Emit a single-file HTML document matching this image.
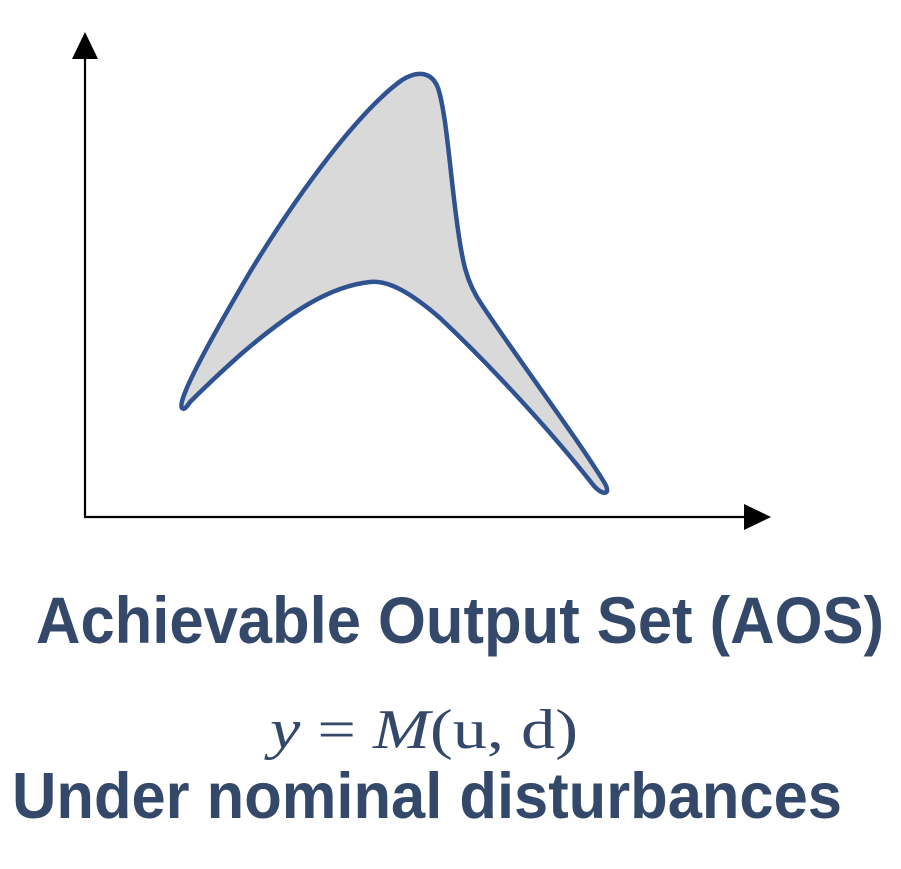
<!DOCTYPE html>
<html>
<head>
<meta charset="utf-8">
<style>
  html, body { margin: 0; padding: 0; background: #ffffff; }
  body { width: 901px; height: 869px; overflow: hidden; }
  svg { display: block; }
</style>
</head>
<body>
<svg width="901" height="869" viewBox="0 0 901 869" xmlns="http://www.w3.org/2000/svg">
  <g>
    <line x1="85" y1="518" x2="85" y2="56" stroke="#000" stroke-width="2.2"/>
    <polygon points="85,32 72,59 98,59" fill="#000"/>
  </g>
  <g>
    <line x1="84" y1="517" x2="748" y2="517" stroke="#000" stroke-width="2.2"/>
    <polygon points="771,517 744,504 744,530" fill="#000"/>
  </g>
  <path
    d="M182,408
       C176,402 210,340 250,272
       C300,190 360,110 402,80
       C418,70 432,72 438,88
       C446,112 450,170 456,215
       C462,262 466,282 482,305
       C520,362 575,435 604,482
       C612,495 603,496 594,486
       C550,430 490,365 440,318
       C410,292 388,280 370,282
       C330,286 290,312 240,355
       C212,380 196,396 190,402
       C186,408 184,410 182,408 Z"
    fill="#d9d9d9" stroke="#2f5290" stroke-width="4.5" stroke-linejoin="round"/>
  <text x="36" y="643" textLength="848" lengthAdjust="spacingAndGlyphs"
    font-family="'Liberation Sans', Arial, sans-serif" font-weight="bold" font-size="66" fill="#34496a">Achievable Output Set (AOS)</text>
  <text x="270" y="748" textLength="308" lengthAdjust="spacingAndGlyphs"
    font-family="'Liberation Serif', 'DejaVu Serif', serif" font-size="56" fill="#34496a"><tspan font-style="italic">y</tspan> = <tspan font-style="italic">M</tspan>(u, d)</text>
  <text x="12" y="818" textLength="830" lengthAdjust="spacingAndGlyphs"
    font-family="'Liberation Sans', Arial, sans-serif" font-weight="bold" font-size="65" fill="#34496a">Under nominal disturbances</text>
</svg>
</body>
</html>
